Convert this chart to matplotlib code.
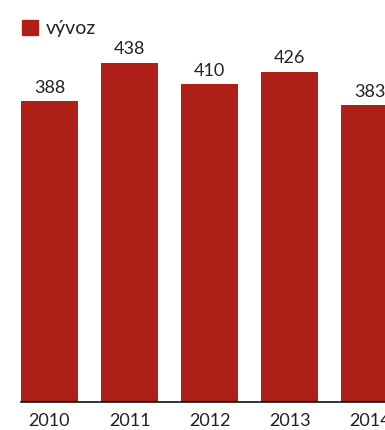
import matplotlib
matplotlib.use("Agg")
import matplotlib.pyplot as plt
from matplotlib.patches import Patch

years = ["2010", "2011", "2012", "2013", "2014"]
vyvoz = [388, 438, 410, 426, 383]

red = "#AE1F17"
plt.rcParams["font.family"] = ["Lato", "DejaVu Sans"]

fig = plt.figure(figsize=(3.85, 4.3), dpi=100)
# axes spans from the first bar's left edge to the right edge of the figure
ax = fig.add_axes([21 / 385, 28 / 430, 1 - 21 / 385, 402 / 430])

x = range(len(years))
bars = ax.bar(x, vyvoz, width=0.71, color=red, zorder=2)
for b, v in zip(bars, vyvoz):
    ax.annotate(str(v), (b.get_x() + b.get_width() / 2, v),
                xytext=(0, 4), textcoords="offset points",
                ha="center", va="bottom", fontsize=13, color="#222222")

ax.set_xlim(-0.355, 4.19)
ax.set_ylim(0, 519)
ax.set_xticks(list(x))
ax.set_xticklabels(years, fontsize=13, color="#222222")
ax.tick_params(axis="x", length=0, pad=8)
ax.set_yticks([])
for s in ["top", "right", "left"]:
    ax.spines[s].set_visible(False)
ax.spines["bottom"].set_linewidth(1.2)
ax.spines["bottom"].set_color("#111111")

fig.legend(handles=[Patch(color=red, label="vývoz")], loc="upper left",
           bbox_to_anchor=(4 / 385, 1 - 2 / 430), frameon=False,
           fontsize=14, handlelength=0.85, handleheight=0.85,
           handletextpad=0.4, labelcolor="#222222")

fig.savefig("out.png", dpi=100)
